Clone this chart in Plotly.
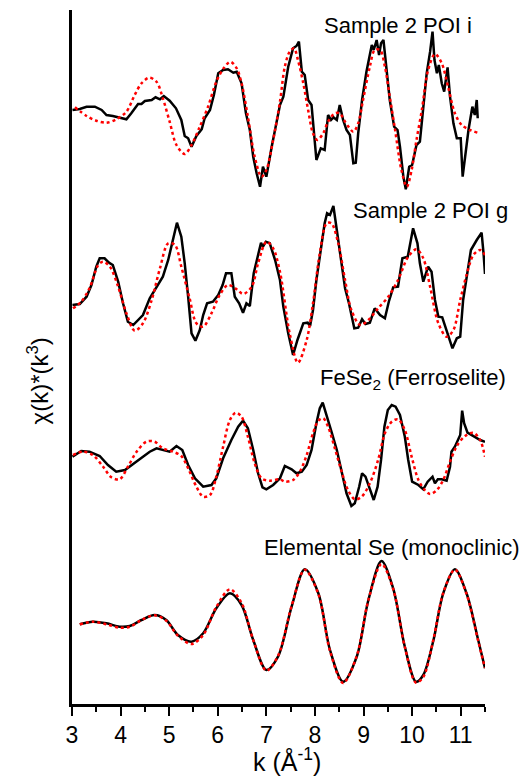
import plotly.graph_objects as go

# ---- Sample 2 POI i : measured chi(k)*k^3 and fit ----
K_POI_I = [3.01, 3.16, 3.30, 3.47, 3.61, 3.71, 3.84, 3.95, 4.02, 4.12,
           4.22, 4.36, 4.43, 4.50, 4.64, 4.72, 4.81, 4.89, 5.01, 5.14,
           5.25, 5.32, 5.39, 5.46, 5.56, 5.67, 5.73, 5.84, 5.92, 6.01,
           6.11, 6.21, 6.32, 6.39, 6.49, 6.58, 6.66, 6.73, 6.80, 6.87,
           6.93, 7.00, 7.11, 7.21, 7.28, 7.35, 7.45, 7.55, 7.62, 7.67,
           7.73, 7.79, 7.86, 7.93, 7.98, 8.03, 8.12, 8.20, 8.27, 8.33,
           8.38, 8.45, 8.51, 8.58, 8.65, 8.72, 8.79, 8.84, 8.89, 8.97,
           9.06, 9.13, 9.17, 9.21, 9.27, 9.32, 9.36, 9.41, 9.48, 9.54,
           9.63, 9.70, 9.75, 9.82, 9.87, 9.94, 10.00, 10.09, 10.16, 10.23,
           10.30, 10.37, 10.42, 10.46, 10.51, 10.55, 10.61, 10.66, 10.73, 10.78,
           10.85, 10.92, 11.00, 11.04, 11.09, 11.16, 11.24, 11.29, 11.33, 11.35]
CHI_POI_I = [0.0, 0.1, 0.33, 0.33, 0.0, -0.5, -0.6, -0.73, -0.8, -0.93,
             -0.33, 0.6, 0.6, 0.9, 1.0, 1.27, 1.07, 1.4, 0.93, 0.17,
             -1.0, -2.6, -2.83, -3.67, -2.6, -1.93, -0.83, 0.0, 1.5, 3.67,
             4.0, 4.07, 3.73, 3.83, 2.67, -0.33, -2.0, -4.67, -6.33, -7.67,
             -5.67, -6.67, -3.67, -1.0, 0.5, 1.33, 4.33, 6.17, 6.4, 6.83,
             3.83, 3.5, 1.0, 0.5, -2.67, -5.0, -3.83, -4.0, -0.5, -1.0,
             -0.73, -1.0, 0.5, -1.0, -2.0, -2.5, -5.33, -5.27, -2.33, 1.0,
             3.83, 5.67, 6.5, 6.0, 7.0, 5.5, 6.67, 7.0, 4.0, 1.0,
             -1.67, -2.0, -3.67, -6.67, -7.93, -5.67, -5.5, -3.5, -3.17, 0.67,
             3.67, 5.83, 7.83, 5.0, 3.67, 4.5, 2.67, 1.83, 4.27, 1.33,
             -1.33, -2.83, -2.83, -6.67, -4.67, -2.0, 0.33, -0.5, 1.0, -0.83]
K_POI_I_FIT = [3.06, 3.30, 3.50, 3.71, 3.91, 4.12, 4.29, 4.43, 4.59, 4.74,
               4.87, 5.01, 5.15, 5.32, 5.46, 5.63, 5.80, 5.97, 6.12, 6.26,
               6.39, 6.49, 6.62, 6.76, 6.90, 7.00, 7.14, 7.28, 7.38, 7.48,
               7.57, 7.65, 7.76, 7.86, 7.96, 8.05, 8.17, 8.27, 8.41, 8.51,
               8.62, 8.79, 8.89, 8.99, 9.13, 9.23, 9.34, 9.44, 9.54, 9.65,
               9.78, 9.89, 9.99, 10.09, 10.20, 10.33, 10.47, 10.61, 10.74, 10.88,
               11.02, 11.19, 11.35]
CHI_POI_I_FIT = [0.27, -0.6, -1.07, -1.27, -0.93, -0.17, 1.5, 2.67, 3.23, 2.83,
                 1.17, -1.17, -3.5, -4.4, -3.5, -1.67, 0.33, 2.83, 4.17, 4.83,
                 4.17, 2.67, -0.67, -4.67, -6.67, -6.0, -3.0, 0.83, 4.33, 5.83,
                 6.17, 5.0, 2.67, 0.0, -2.33, -3.0, -2.33, -1.17, -0.33, -0.33,
                 -1.17, -2.17, -1.33, 1.0, 4.33, 6.0, 6.0, 4.33, 1.33, -2.0,
                 -6.0, -7.67, -6.0, -3.0, 0.0, 4.0, 5.6, 4.67, 2.33, -0.33,
                 -1.5, -2.0, -2.27]

# ---- Sample 2 POI g ----
K_POI_G = [3.01, 3.16, 3.30, 3.40, 3.50, 3.57, 3.67, 3.76, 3.84, 3.95,
           4.05, 4.15, 4.26, 4.36, 4.46, 4.60, 4.74, 4.87, 4.98, 5.07,
           5.16, 5.25, 5.32, 5.39, 5.46, 5.54, 5.63, 5.70, 5.78, 5.90,
           6.01, 6.10, 6.17, 6.28, 6.35, 6.44, 6.52, 6.59, 6.66, 6.74,
           6.83, 6.89, 6.93, 6.99, 7.07, 7.18, 7.28, 7.35, 7.45, 7.55,
           7.64, 7.76, 7.85, 7.90, 7.96, 8.03, 8.14, 8.20, 8.25, 8.31,
           8.38, 8.43, 8.51, 8.62, 8.70, 8.81, 8.89, 8.97, 9.04, 9.13,
           9.23, 9.34, 9.44, 9.52, 9.61, 9.71, 9.80, 9.91, 10.02, 10.11,
           10.16, 10.23, 10.33, 10.40, 10.47, 10.54, 10.62, 10.71, 10.83, 10.92,
           10.99, 11.05, 11.12, 11.21, 11.33, 11.43, 11.47, 11.50]
CHI_POI_G = [-0.3, -0.2, 0.53, 1.7, 3.53, 4.37, 4.37, 3.93, 3.7, 2.03,
             -0.13, -1.97, -2.3, -1.8, -1.3, 0.37, 1.53, 2.53, 4.2, 6.2,
             7.93, 6.53, 3.87, 0.53, -3.13, -3.87, -2.8, -1.3, -0.13, 0.03,
             0.7, 1.7, 2.87, 2.87, 0.53, -0.13, -1.07, -0.13, -0.4, 2.87,
             4.87, 5.93, 5.53, 6.03, 5.87, 4.2, 2.2, -0.47, -3.13, -5.3,
             -3.8, -2.13, -2.07, -2.4, -0.8, 2.2, 5.87, 7.87, 8.87, 8.7,
             9.6, 7.87, 5.2, 1.37, -0.13, -2.63, -2.57, -1.73, -2.2, -2.07,
             -0.63, -1.3, -1.63, 0.03, 1.47, 1.53, 4.37, 4.53, 7.37, 5.87,
             3.87, 2.03, 3.53, 3.03, 0.2, -1.47, -1.53, -2.8, -4.63, -3.63,
             -3.47, 0.2, 2.53, 5.2, 6.2, 6.93, 4.87, 2.8]
K_POI_G_FIT = [3.02, 3.19, 3.36, 3.54, 3.64, 3.78, 3.95, 4.12, 4.29, 4.46,
               4.64, 4.81, 4.98, 5.12, 5.25, 5.42, 5.56, 5.70, 5.87, 6.04,
               6.21, 6.39, 6.52, 6.70, 6.83, 7.00, 7.14, 7.28, 7.48, 7.65,
               7.83, 7.96, 8.10, 8.24, 8.34, 8.48, 8.62, 8.75, 8.93, 9.10,
               9.30, 9.51, 9.71, 9.92, 10.09, 10.23, 10.37, 10.54, 10.71, 10.85,
               10.99, 11.12, 11.26, 11.40, 11.50]
CHI_POI_G_FIT = [-0.63, 0.03, 1.37, 3.7, 4.03, 3.53, 1.53, -1.13, -2.87, -2.13,
                 0.2, 3.37, 5.87, 5.7, 3.53, 0.37, -2.13, -2.47, -1.13, 0.7,
                 1.7, 1.27, 0.8, 1.53, 3.87, 6.03, 5.37, 3.03, -3.13, -6.07,
                 -3.8, -0.13, 4.87, 7.87, 7.87, 5.87, 2.2, -0.8, -2.3, -1.8,
                 -0.63, 0.53, 2.2, 4.53, 5.27, 4.37, 1.53, -2.13, -3.47, -2.8,
                 0.2, 2.7, 4.7, 5.2, 4.7]

# ---- FeSe2 (ferroselite) reference ----
K_FESE2 = [3.01, 3.19, 3.36, 3.57, 3.74, 3.91, 4.09, 4.26, 4.43, 4.60,
           4.74, 4.87, 5.01, 5.15, 5.27, 5.39, 5.53, 5.70, 5.87, 5.97,
           6.11, 6.28, 6.42, 6.52, 6.62, 6.73, 6.83, 6.92, 7.00, 7.14,
           7.28, 7.38, 7.52, 7.62, 7.73, 7.83, 7.93, 8.03, 8.10, 8.16,
           8.24, 8.34, 8.45, 8.55, 8.65, 8.75, 8.82, 8.91, 8.97, 9.04,
           9.13, 9.21, 9.29, 9.36, 9.43, 9.50, 9.58, 9.66, 9.75, 9.85,
           9.92, 10.00, 10.13, 10.23, 10.32, 10.42, 10.47, 10.53, 10.61, 10.71,
           10.78, 10.81, 10.88, 10.99, 11.03, 11.07, 11.14, 11.29, 11.40, 11.50]
CHI_FESE2 = [-0.17, 0.4, 0.33, -0.1, -1.0, -1.67, -1.5, -0.9, -0.33, 0.33,
             0.67, 0.5, 0.33, 0.9, 0.5, -1.0, -2.33, -3.17, -3.0, -2.33,
             -0.33, 1.5, 2.83, 3.43, 2.67, 0.5, -1.83, -3.23, -3.43, -3.0,
             -2.33, -1.1, -1.43, -1.83, -1.67, -1.0, 0.5, 3.17, 4.67, 5.23,
             4.0, 2.33, 0.5, -1.83, -3.83, -5.1, -4.83, -3.17, -1.83, -2.17,
             -3.5, -4.5, -3.17, -0.5, 2.83, 4.5, 5.0, 4.83, 4.0, 1.83,
             -0.5, -2.67, -3.0, -3.43, -2.67, -2.17, -2.83, -2.43, -2.43, -2.57,
             -1.17, 0.33, 0.83, 2.0, 4.43, 3.17, 2.23, 1.83, 1.5, 1.33]
K_FESE2_FIT = [3.02, 3.23, 3.43, 3.64, 3.81, 3.98, 4.15, 4.33, 4.53, 4.70,
               4.87, 5.08, 5.25, 5.39, 5.56, 5.70, 5.84, 5.97, 6.11, 6.25,
               6.37, 6.49, 6.62, 6.76, 6.90, 7.07, 7.28, 7.38, 7.55, 7.69,
               7.83, 7.96, 8.07, 8.17, 8.27, 8.41, 8.55, 8.68, 8.82, 8.96,
               9.13, 9.30, 9.44, 9.58, 9.71, 9.85, 9.99, 10.13, 10.26, 10.37,
               10.51, 10.64, 10.78, 10.92, 11.09, 11.26, 11.40, 11.50]
CHI_FESE2_FIT = [0.0, 0.33, 0.0, -1.17, -2.23, -2.43, -1.17, 0.33, 1.33, 1.33,
                 0.67, 0.33, -0.1, -1.33, -3.17, -4.17, -4.0, -2.17, 0.83, 3.5,
                 4.23, 3.83, 1.83, -0.83, -2.33, -2.57, -2.43, -2.67, -2.5, -1.67,
                 0.0, 2.17, 3.43, 3.67, 2.83, 0.67, -1.67, -3.5, -4.43, -4.17,
                 -2.83, -0.5, 2.17, 3.33, 3.57, 2.5, -0.17, -2.5, -3.5, -3.9,
                 -3.5, -2.5, -0.67, 0.9, 1.9, 2.23, 1.5, -0.17]

# ---- Elemental Se (monoclinic) reference ----
K_SE = [3.16, 3.43, 3.71, 3.98, 4.19, 4.43, 4.70, 4.94, 5.18, 5.46,
        5.70, 5.97, 6.25, 6.49, 6.73, 7.00, 7.24, 7.52, 7.79, 8.07,
        8.31, 8.58, 8.86, 9.10, 9.37, 9.61, 9.85, 10.08, 10.23, 10.44,
        10.64, 10.88, 11.12, 11.36, 11.50]
CHI_SE = [-0.13, 0.13, -0.03, -0.37, -0.3, 0.3, 0.8, 0.3, -1.2, -1.87,
          -1.03, 1.47, 2.97, 1.8, -1.7, -4.7, -3.37, 1.63, 5.37, 2.97,
          -2.7, -5.87, -3.37, 2.3, 6.2, 3.47, -2.37, -5.87, -5.2, -1.7,
          2.97, 5.37, 2.97, -1.7, -4.53]
CHI_SE_FIT = [-0.13, 0.13, -0.13, -0.47, -0.37, 0.3, 0.77, 0.23, -1.27, -2.1,
              -1.2, 1.6, 3.37, 2.0, -1.7, -4.77, -3.3, 1.7, 5.33, 2.9,
              -2.8, -6.0, -3.3, 2.3, 5.9, 3.4, -2.4, -5.97, -5.4, -1.6,
              3.0, 5.33, 2.9, -1.8, -4.5]

# vertical stacking offsets (top to bottom) and labels
OFFSETS = [59.4, 40.2, 24.9, 8.1]
LABELS = ["Sample 2 POI i", "Sample 2 POI g",
          "FeSe<sub>2</sub> (Ferroselite)", "Elemental Se (monoclinic)"]
LABEL_POS = [(9.70, 67.9), (10.37, 49.4), (10.02, 32.5), (9.58, 15.7)]

FONT = "Liberation Sans, Arial, sans-serif"

spectra = [
    (K_POI_I, CHI_POI_I, K_POI_I_FIT, CHI_POI_I_FIT, "linear"),
    (K_POI_G, CHI_POI_G, K_POI_G_FIT, CHI_POI_G_FIT, "linear"),
    (K_FESE2, CHI_FESE2, K_FESE2_FIT, CHI_FESE2_FIT, "linear"),
    (K_SE, CHI_SE, K_SE, CHI_SE_FIT, "spline"),
]

fig = go.Figure()
for (k, chi, kf, chif, shape), off in zip(spectra, OFFSETS):
    fig.add_trace(go.Scatter(
        x=k, y=[v + off for v in chi], mode="lines",
        line=dict(color="black", width=2.5, shape=shape, smoothing=0.9),
        showlegend=False, hoverinfo="skip"))
    fig.add_trace(go.Scatter(
        x=kf, y=[v + off for v in chif], mode="lines",
        line=dict(color="#ff0000", width=2.5, dash="dot",
                  shape="spline", smoothing=0.9),
        showlegend=False, hoverinfo="skip"))

for text, (x, y) in zip(LABELS, LABEL_POS):
    fig.add_annotation(x=x, y=y, text=text, showarrow=False,
                       xanchor="center", yanchor="middle",
                       font=dict(family=FONT, size=22, color="black"))

# axis titles, placed in paper coordinates outside the plotting area
fig.add_annotation(xref="paper", yref="paper", x=-0.082, y=0.465,
                   text="χ(k)*(k<sup>3</sup>)", showarrow=False,
                   textangle=-90, xanchor="center", yanchor="middle",
                   font=dict(family=FONT, size=24, color="black"))
fig.add_annotation(xref="paper", yref="paper", x=0.52, y=-0.081,
                   text="k (Å<sup>-1</sup>)", showarrow=False,
                   xanchor="center", yanchor="middle",
                   font=dict(family=FONT, size=25, color="black"))

fig.update_xaxes(range=[3, 11.5], tick0=3, dtick=1, ticks="outside",
                 ticklen=9, tickwidth=2, tickcolor="black",
                 minor=dict(dtick=0.5, ticks="outside", ticklen=5,
                            tickwidth=2, tickcolor="black"),
                 showline=True, linewidth=2.5, linecolor="black",
                 showgrid=False, zeroline=False,
                 tickfont=dict(family=FONT, size=23, color="black"))
fig.update_yaxes(range=[0, 69.4], showticklabels=False, ticks="",
                 showline=True, linewidth=2.5, linecolor="black",
                 showgrid=False, zeroline=False)

fig.update_layout(width=525, height=778,
                  margin=dict(l=72, r=40, t=10, b=74),
                  plot_bgcolor="white", paper_bgcolor="white")

fig.write_html("out.html")
